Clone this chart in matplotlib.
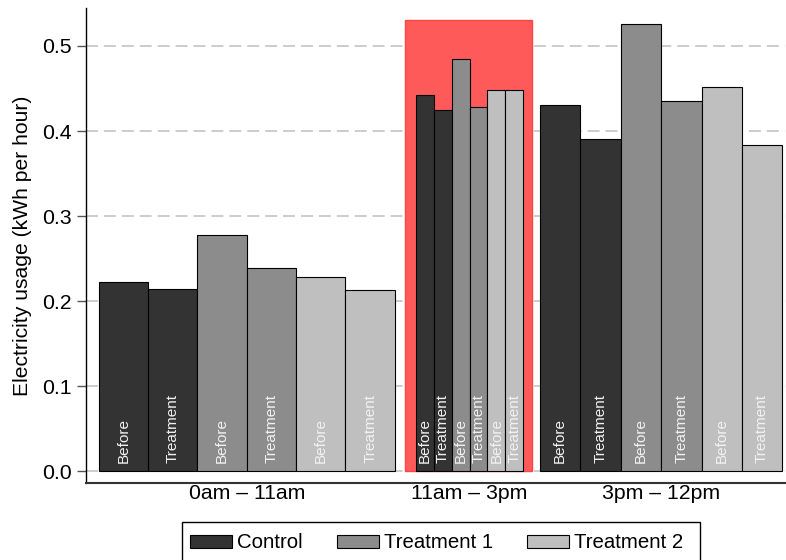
import matplotlib
matplotlib.use("Agg")
import matplotlib.pyplot as plt
from matplotlib.patches import Patch, Rectangle

plt.rcParams['font.family'] = ['Liberation Sans', 'DejaVu Sans']

# ---- data ----
periods = ["0am \u2013 11am", "11am \u2013 3pm", "3pm \u2013 12pm"]
period_hours = [11, 4, 9]
groups = ["Control", "Treatment 1", "Treatment 2"]
phases = ["Before", "Treatment"]
control_before = [0.2227, 0.4427, 0.4306]
control_treatment = [0.2145, 0.4247, 0.3910]
t1_before = [0.2776, 0.4843, 0.5255]
t1_treatment = [0.2385, 0.4286, 0.4357]
t2_before = [0.2279, 0.4486, 0.4520]
t2_treatment = [0.2129, 0.4486, 0.3835]
highlight_top = 0.530
yticks = [0.0, 0.1, 0.2, 0.3, 0.4, 0.5]

colors = ["#333333", "#8c8c8c", "#bfbfbf"]
series = [
    (control_before, control_treatment),
    (t1_before, t1_treatment),
    (t2_before, t2_treatment),
]

# ---- layout ----
W, H = 786, 560
fig = plt.figure(figsize=(W / 100, H / 100), dpi=100)
ax = fig.add_axes([86 / W, (H - 483) / H, (785 - 86) / W, (483 - 8) / H])

FS = 15.3
LFS = 14.7
start0 = 2.83
gaps = [4.65, 3.7]
hl_pad = (2.38, 2.0)

x = start0
centers = []
for gi, hrs in enumerate(period_hours):
    gstart = x
    k = 0
    for si, (bef, trt) in enumerate(series):
        for pi, vals in enumerate((bef, trt)):
            left = x + k * hrs
            ax.bar(left, vals[gi], width=hrs, align='edge', color=colors[si],
                   edgecolor='black', linewidth=0.8, zorder=3)
            ax.annotate(phases[pi], (left + hrs / 2, 0), xytext=(0, 5.5),
                        textcoords='offset points', rotation=90, ha='center',
                        va='bottom', color='#f2f2f2', fontsize=11, zorder=4)
            k += 1
    gend = x + 6 * hrs
    centers.append((gstart + gend) / 2)
    if gi == 1:
        ax.add_patch(Rectangle((gstart - hl_pad[0], 0), gend - gstart + hl_pad[0] + hl_pad[1],
                               highlight_top, facecolor='#ff5a5a', edgecolor='#ff4444',
                               linewidth=1.0, zorder=2))
    if gi < len(gaps):
        x = gend + gaps[gi]

ax.set_xlim(0, (785 - 86) / 4.487)
ax.set_ylim(-0.0141, 0.5447)

lw = 1.3
for yv in yticks:
    ax.axhline(yv, color='#c8c8c8', linewidth=lw, linestyle=(0, (8.6 / lw, 4.3 / lw)), zorder=1)

ax.set_yticks(yticks)
ax.set_yticklabels([f"{v:.1f}" for v in yticks])
ax.set_xticks(centers)
ax.set_xticklabels(periods)
ax.tick_params(axis='x', length=0, pad=1, labelsize=FS)
ax.tick_params(axis='y', length=6.5, width=1, color='#555555', pad=3.8, labelsize=FS)
ax.set_ylabel("Electricity usage (kWh per hour)", fontsize=15.2, labelpad=7)

for s in ['top', 'right']:
    ax.spines[s].set_visible(False)
ax.spines['left'].set_linewidth(1.0)
ax.spines['bottom'].set_linewidth(1.5)
ax.spines['bottom'].set_color('#333333')

# legend frame and legend
fig.add_artist(Rectangle((181.7 / W, (H - 575) / H), (700 - 181.7) / W, (575 - 522) / H,
                         transform=fig.transFigure, facecolor='white', edgecolor='black',
                         linewidth=1.0))
handles = [Patch(facecolor=c, edgecolor='black', linewidth=0.8) for c in colors]
fig.legend(handles, groups, loc='center left', bbox_to_anchor=(190 / W, (H - 543) / H),
           ncol=3, frameon=False, fontsize=LFS, handlelength=2.06, handleheight=0.64,
           handletextpad=0.26, columnspacing=1.65, borderpad=0.0, borderaxespad=0.0)

fig.savefig("out.png", dpi=100)
